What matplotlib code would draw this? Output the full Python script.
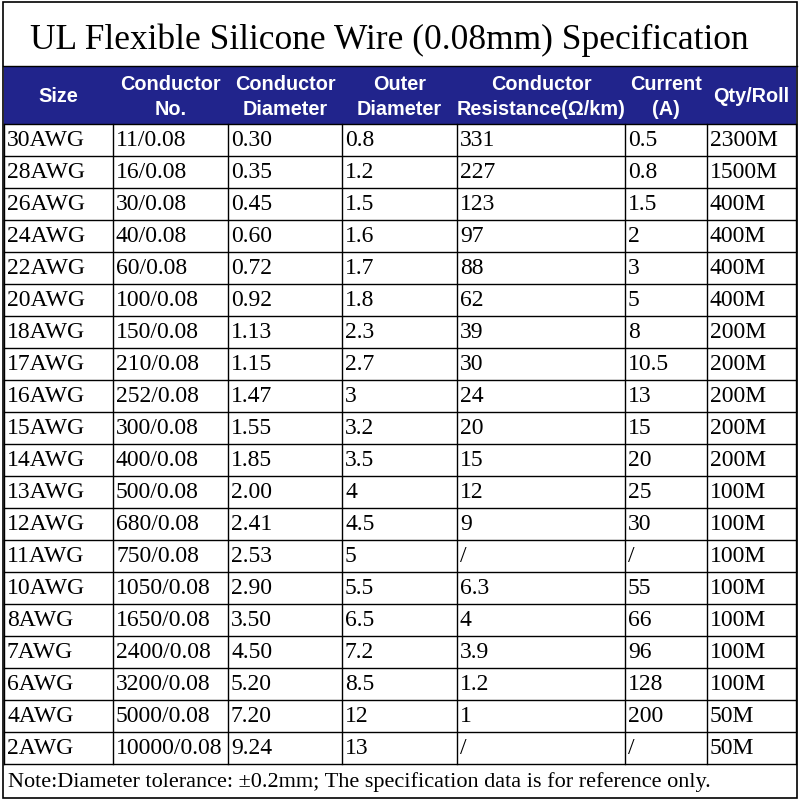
import matplotlib.pyplot as plt
from matplotlib.patches import Rectangle

title = "UL Flexible Silicone Wire (0.08mm) Specification"
headers = ["Size", "Conductor\nNo.", "Conductor\nDiameter", "Outer\nDiameter",
           "Conductor\nResistance(\u03a9/km)", "Current\n(A)", "Qty/Roll"]
sizes = ["30AWG","28AWG","26AWG","24AWG","22AWG","20AWG","18AWG","17AWG","16AWG","15AWG",
         "14AWG","13AWG","12AWG","11AWG","10AWG","8AWG","7AWG","6AWG","4AWG","2AWG"]
cond_no = ["11/0.08","16/0.08","30/0.08","40/0.08","60/0.08","100/0.08","150/0.08","210/0.08",
           "252/0.08","300/0.08","400/0.08","500/0.08","680/0.08","750/0.08","1050/0.08",
           "1650/0.08","2400/0.08","3200/0.08","5000/0.08","10000/0.08"]
cond_dia = ["0.30","0.35","0.45","0.60","0.72","0.92","1.13","1.15","1.47","1.55","1.85","2.00",
            "2.41","2.53","2.90","3.50","4.50","5.20","7.20","9.24"]
outer_dia = ["0.8","1.2","1.5","1.6","1.7","1.8","2.3","2.7","3","3.2","3.5","4","4.5","5",
             "5.5","6.5","7.2","8.5","12","13"]
resistance = ["331","227","123","97","88","62","39","30","24","20","15","12","9","/","6.3",
              "4","3.9","1.2","1","/"]
current = ["0.5","0.8","1.5","2","3","5","8","10.5","13","15","20","25","30","/","55","66",
           "96","128","200","/"]
qty = ["2300M","1500M","400M","400M","400M","400M","200M","200M","200M","200M","200M",
       "100M","100M","100M","100M","100M","100M","100M","50M","50M"]
note = "Note:Diameter tolerance: \u00b10.2mm; The specification data is for reference only."

cols = [sizes, cond_no, cond_dia, outer_dia, resistance, current, qty]
xb = [4, 113, 228, 342, 457, 625, 707, 796]
head_top, head_bot = 66, 124
row_h = 32
n = len(sizes)
table_bot = head_bot + n * row_h

fig = plt.figure(figsize=(8, 8), dpi=100)
ax = fig.add_axes([0, 0, 1, 1])
ax.set_xlim(0, 800); ax.set_ylim(800, 0); ax.axis('off')

serif = ['Liberation Serif', 'DejaVu Serif']
sans = ['Liberation Sans', 'DejaVu Sans']

ax.add_patch(Rectangle((3, 2), 794, 796, fill=False, ec='black', lw=1.2))
ax.text(389, 40, title, ha='center', va='center', fontsize=25.5, family=serif)
ax.add_patch(Rectangle((xb[0], head_top), xb[-1]-xb[0], head_bot-head_top, fc='#21248c', ec='none'))
for i, h in enumerate(headers):
    ax.text((xb[i]+xb[i+1])/2, (head_top+head_bot)/2 + 2, h, ha='center', va='center',
            fontsize=14.3, family=sans, weight='bold', color='white', linespacing=1.4)
for r in range(n):
    yc = head_bot + r*row_h + row_h/2
    for c, col in enumerate(cols):
        ax.text(xb[c] + 3, yc + 1, col[r], ha='left', va='center', fontsize=17, family=serif)
for r in range(n + 1):
    y = head_bot + r*row_h
    ax.plot([xb[0], xb[-1]], [y, y], color='black', lw=1)
for x in xb:
    ax.plot([x, x], [head_bot, table_bot], color='black', lw=1)
ax.plot([3, 797], [head_top, head_top], color='black', lw=1)
ax.text(8, (table_bot + 798)/2 + 1, note, ha='left', va='center', fontsize=16, family=serif)
fig.savefig('out.png', dpi=100)
